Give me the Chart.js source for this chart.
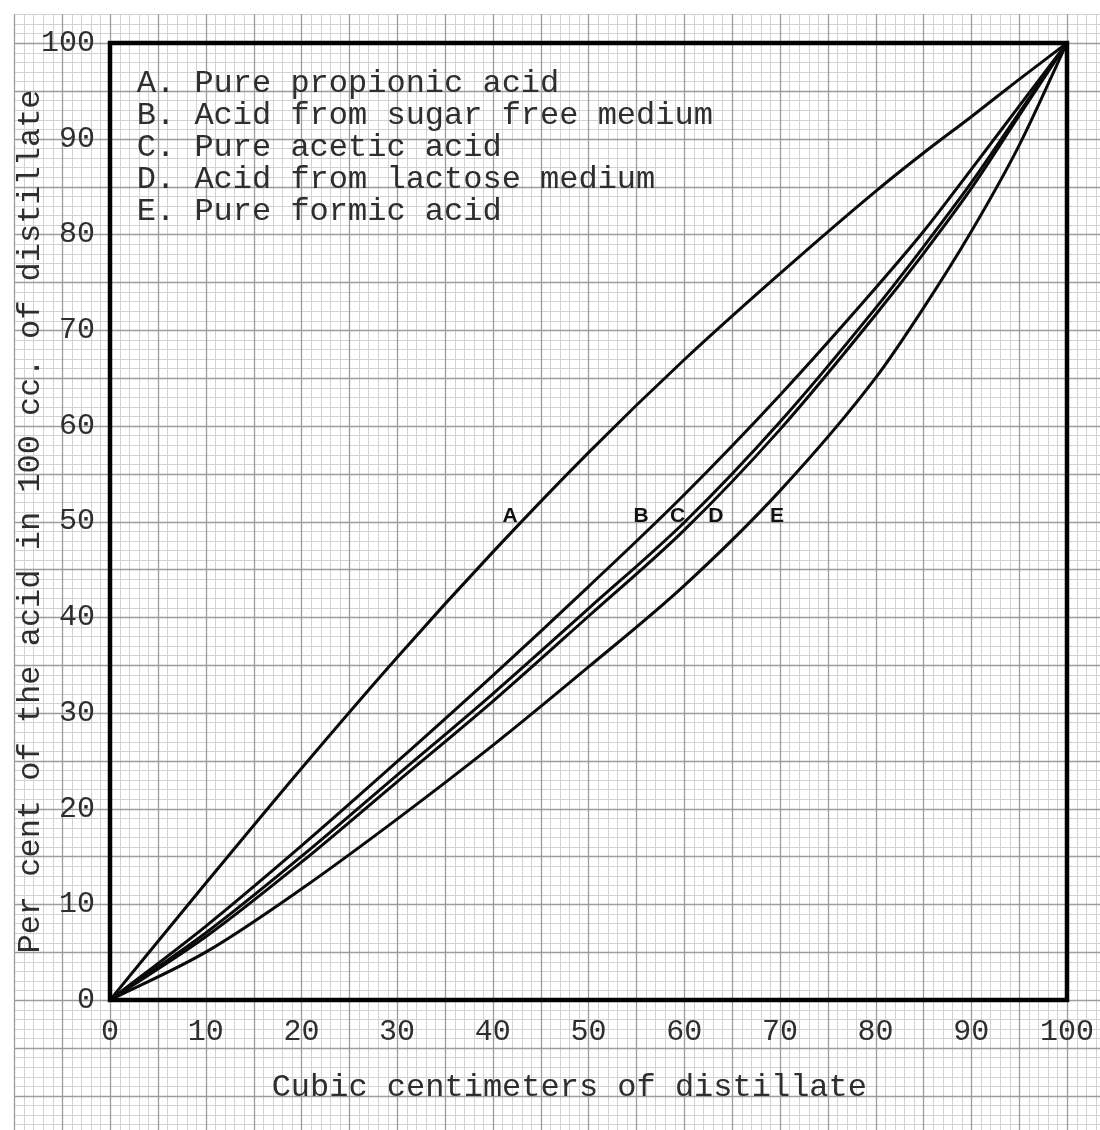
<!DOCTYPE html>
<html>
<head>
<meta charset="utf-8">
<title>Distillation curves</title>
<script src="https://cdn.jsdelivr.net/npm/chart.js@4.4.1/dist/chart.umd.min.js"></script>
<style>
html, body { margin: 0; padding: 0; background: #fff; }
</style>
</head>
<body>
<canvas id="myChart" width="1100" height="1130"></canvas>
<script>
// cc. of distillate collected
var xValues = [0, 10, 20, 30, 40, 50, 60, 70, 80, 85, 90, 95, 100];
// per cent of the acid in 100 cc. of distillate
var propionicA = [0, 12.2, 24.2, 35.8, 46.8, 57.2, 66.9, 75.9, 84.5, 88.5, 92.3, 96.2, 100];
var sugarFreeB = [0, 7.7, 16.1, 24.9, 33.9, 43.2, 52.8, 63.2, 74.4, 80.3, 86.8, 93.4, 100];
var aceticC = [0, 7, 15, 23.5, 32, 40.9, 49.9, 60.4, 72.3, 78.7, 85.4, 92.7, 100];
var lactoseD = [0, 6.6, 14.4, 22.8, 31.2, 40.1, 49.1, 59.6, 71.6, 78, 84.8, 92.4, 100];
var formicE = [0, 5, 11.6, 18.9, 26.6, 34.8, 43.3, 53.2, 65, 72.3, 80.3, 89.3, 100];

var legendLines = [
    'A. Pure propionic acid',
    'B. Acid from sugar free medium',
    'C. Pure acetic acid',
    'D. Acid from lactose medium',
    'E. Pure formic acid'
];
var curveTags = ['A', 'B', 'C', 'D', 'E'];
var tagX = [41.8, 55.5, 59.3, 63.3, 69.7];
var tagY = 50.6;

var typeFont = "'Liberation Mono', 'DejaVu Sans Mono', monospace";
var ink = '#2e2e2e';

function toPoints(ys) {
    return xValues.map(function (x, i) { return { x: x, y: ys[i] }; });
}

function curve(label, ys) {
    return {
        label: label,
        data: toPoints(ys),
        borderColor: '#0a0a0a',
        borderWidth: 3,
        pointRadius: 0,
        fill: false,
        cubicInterpolationMode: 'monotone'
    };
}

/* graph paper behind everything */
var paperPlugin = {
    id: 'paper',
    beforeDraw: function (chart) {
        var ctx = chart.ctx, sx = chart.scales.x, sy = chart.scales.y;
        var x0 = sx.getPixelForValue(-10), x1 = chart.width;
        var y0 = sy.getPixelForValue(103), y1 = chart.height;
        ctx.save();
        ctx.fillStyle = '#fff';
        ctx.fillRect(0, 0, chart.width, chart.height);
        [false, true].forEach(function (major) {
            ctx.strokeStyle = major ? '#9c9c9c' : '#d2d2d2';
            ctx.lineWidth = major ? 1.3 : 1;
            ctx.beginPath();
            for (var v = -10; v <= 104; v++) {
                if ((v % 5 === 0) !== major) continue;
                var px = Math.round(sx.getPixelForValue(v)) + 0.5;
                ctx.moveTo(px, y0); ctx.lineTo(px, y1);
            }
            for (var w = -14; w <= 103; w++) {
                if ((w % 5 === 0) !== major) continue;
                var py = Math.round(sy.getPixelForValue(w)) + 0.5;
                ctx.moveTo(x0, py); ctx.lineTo(x1, py);
            }
            ctx.stroke();
        });
        ctx.restore();
    },
    afterDatasetsDraw: function (chart) {
        var ctx = chart.ctx, a = chart.chartArea, sx = chart.scales.x, sy = chart.scales.y;
        ctx.save();
        // heavy frame
        ctx.strokeStyle = '#000';
        ctx.lineWidth = 4.5;
        ctx.strokeRect(a.left, a.top, a.right - a.left, a.bottom - a.top);
        // typed key
        ctx.fillStyle = ink;
        ctx.font = '32px ' + typeFont;
        ctx.textBaseline = 'middle';
        ctx.textAlign = 'left';
        legendLines.forEach(function (t, i) {
            ctx.fillText(t, sx.getPixelForValue(2.8), sy.getPixelForValue(100) + 41 + i * 32);
        });
        // hand lettered curve tags
        ctx.fillStyle = '#111';
        ctx.font = "bold 21px 'Liberation Sans', Arial, sans-serif";
        ctx.textAlign = 'center';
        curveTags.forEach(function (t, i) {
            ctx.fillText(t, sx.getPixelForValue(tagX[i]), sy.getPixelForValue(tagY));
        });
        ctx.restore();
    }
};

var ctx = document.getElementById('myChart').getContext('2d');
var myChart = new Chart(ctx, {
    type: 'line',
    data: {
        datasets: [
            curve(legendLines[0], propionicA),
            curve(legendLines[1], sugarFreeB),
            curve(legendLines[2], aceticC),
            curve(legendLines[3], lactoseD),
            curve(legendLines[4], formicE)
        ]
    },
    options: {
        responsive: false,
        animation: false,
        layout: { padding: { top: 43, right: 32, left: 0, bottom: 0 } },
        plugins: {
            legend: { display: false },
            tooltip: { enabled: false }
        },
        scales: {
            x: {
                type: 'linear',
                min: 0,
                max: 100,
                grid: { display: false },
                border: { display: false },
                ticks: {
                    stepSize: 10,
                    maxRotation: 0,
                    padding: 6,
                    color: ink,
                    font: { family: typeFont, size: 30 }
                },
                title: {
                    display: true,
                    text: 'Cubic centimeters of distillate  ',
                    color: ink,
                    font: { family: typeFont, size: 32 },
                    padding: { top: 0, bottom: 23 }
                },
                afterFit: function (scale) { scale.height = 130; }
            },
            y: {
                type: 'linear',
                min: 0,
                max: 100,
                grid: { display: false },
                border: { display: false },
                ticks: {
                    stepSize: 10,
                    padding: 7,
                    color: ink,
                    font: { family: typeFont, size: 30 }
                },
                title: {
                    display: true,
                    text: 'Per cent of the acid in 100 cc. of distillate',
                    color: ink,
                    font: { family: typeFont, size: 32 },
                    padding: { top: 11, bottom: 0 }
                },
                afterFit: function (scale) { scale.width = 110; }
            }
        }
    },
    plugins: [paperPlugin]
});
</script>
</body>
</html>
